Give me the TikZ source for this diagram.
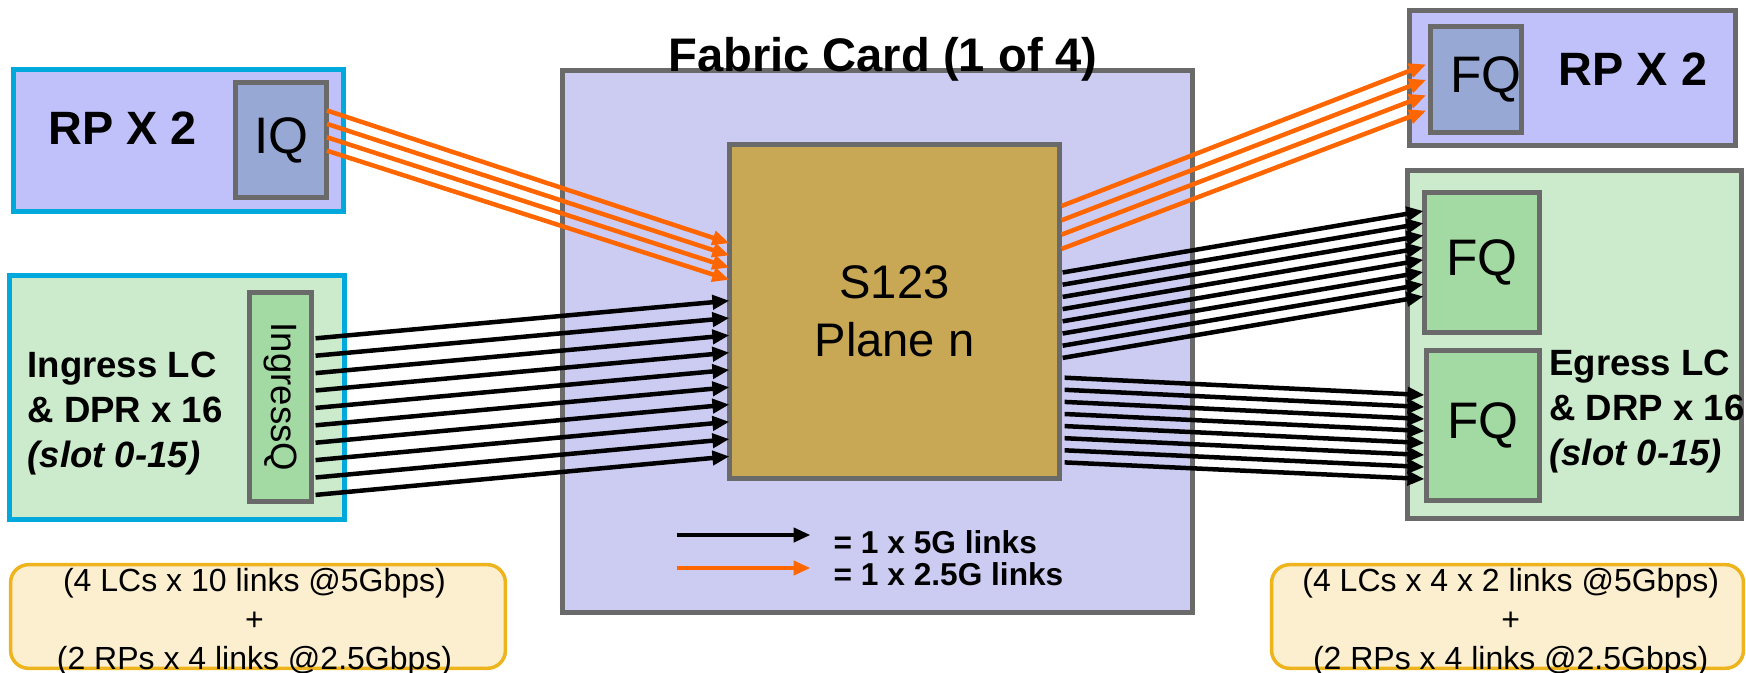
\documentclass[tikz,border=0pt]{standalone}
\usepackage{fontspec}
\setmainfont{Liberation Sans}
\usetikzlibrary{calc,arrows.meta}

\definecolor{rpfill}{RGB}{192,192,250}
\definecolor{fabfill}{RGB}{204,204,242}
\definecolor{qfill}{RGB}{151,168,212}
\definecolor{lcfill}{RGB}{204,234,204}
\definecolor{gqfill}{RGB}{163,217,163}
\definecolor{chipfill}{RGB}{200,168,84}
\definecolor{cardblue}{RGB}{0,169,220}
\definecolor{edgegray}{RGB}{106,106,106}
\definecolor{linkorange}{RGB}{255,102,0}
\definecolor{notefill}{RGB}{252,239,207}
\definecolor{notegold}{RGB}{238,180,30}

\begin{document}
\begin{tikzpicture}[x=0.01cm, y=-0.01cm,
  box/.style={draw=edgegray, line width=0.05cm, inner sep=0pt, outer sep=0pt},
  card/.style={box, draw=cardblue},
  note/.style={draw=notegold, line width=0.035cm, fill=notefill, rounded corners=0.18cm, inner sep=0pt},
  notetext/.style={inner sep=0pt, align=center, font=\fontsize{9.1}{11.1}\selectfont},
  link/.style={line width=0.045cm, -{Triangle[length=0.17cm,width=0.14cm]}},
  fast/.style={link, black},
  slow/.style={link, linkorange},
  big/.style={inner sep=0pt, font=\fontsize{13.3}{16}\selectfont\bfseries},
  q/.style={font=\fontsize{14.6}{17}\selectfont},
  lc/.style={inner sep=0pt, align=left, font=\fontsize{10.4}{12.8}\selectfont\bfseries}
]
\useasboundingbox (0,0) rectangle (1746,673);

% Left side: route processors and ingress line cards
\node[card, fill=rpfill, minimum width=3.29cm, minimum height=1.41cm] (rpL) at (178.5,140.5) {};
\node[box, fill=qfill, minimum width=0.915cm, minimum height=1.14cm, q] (iq) at (281.2,140) {IQ};
\node[big, anchor=base] at (122.5,145) {RP X 2};

\node[card, fill=lcfill, minimum width=3.35cm, minimum height=2.435cm] (ingL) at (177,397.3) {};
\node[box, fill=gqfill, minimum width=0.625cm, minimum height=2.09cm] (ingQ) at (280.3,397) {};
\node[rotate=-90, font=\fontsize{10.4}{12}\selectfont] at (ingQ.center) {IngressQ};
\node[lc, anchor=west] at (26.8,413.7) {Ingress LC\\\& DPR x 16\\\textit{(slot 0-15)}};

% Fabric card with the switch element
\node[box, fill=fabfill, minimum width=6.29cm, minimum height=5.41cm] (fabric) at (877.5,341.5) {};
\node[big, anchor=base, font=\fontsize{13.4}{16}\selectfont\bfseries] (title) at (883,71.5) {Fabric Card (1 of 4)};
\node[box, fill=chipfill, minimum width=3.30cm, minimum height=3.335cm, align=center,
  font=\fontsize{13.4}{16.45}\selectfont] (chip) at (894.5,311.7) {S123\\Plane n};

% Right side: route processors and egress line cards
\node[box, fill=rpfill, minimum width=3.26cm, minimum height=1.345cm] (rpR) at (1572.5,78.2) {};
\node[box, fill=qfill, minimum width=0.895cm, minimum height=1.065cm, q] (fqR) at (1475.8,79.3) {\hspace*{0.2cm}FQ};
\node[big, anchor=base] at (1633,85.4) {RP X 2};

\node[box, fill=lcfill, minimum width=3.335cm, minimum height=3.48cm] (egL) at (1574.8,344.5) {};
\node[box, fill=gqfill, minimum width=1.15cm, minimum height=1.40cm, q] (fq1) at (1482,262.5) {FQ};
\node[box, fill=gqfill, minimum width=1.13cm, minimum height=1.50cm, q] (fq2) at (1483,425.5) {FQ};
\node[lc, anchor=west] at (1548.6,411.6) {Egress LC\\\& DRP x 16\\\textit{(slot 0-15)}};

% Link counts
\node[note, minimum width=4.946cm, minimum height=1.036cm] (sumL) at (258,616.5) {};
\node[notetext] at (254.5,622.3) {(4 LCs x 10 links @5Gbps)\\+\\(2 RPs x 4 links @2.5Gbps)};
\node[note, minimum width=4.716cm, minimum height=1.036cm] (sumR) at (1507.5,616.5) {};
\node[notetext] at (1510.7,622.3) {(4 LCs x 4 x 2 links @5Gbps)\\+\\(2 RPs x 4 links @2.5Gbps)};

% Links into the fabric
\foreach \i in {0,...,3}
  \draw[slow] ($(iq.east)+(0,-29.5+13.4*\i)$) -- ($(chip.west)+(0,-68.5+12.2*\i)$);
\foreach \i in {0,...,9}
  \draw[fast] ($(ingQ.east)+(4,-58.7+17.4*\i)$) -- ($(chip.west)+(0,-11+17.3*\i)$);

% Links out of the fabric
\foreach \i in {0,...,3}
  \draw[slow] ($(chip.east)+(2,-105.7+14.3*\i)$) -- ($(fqR.west)+(-4,-14.9+15.4*\i)$);
\foreach \i in {0,...,7}
  \draw[fast] ($(chip.east)+(3,-39.2+12.2*\i)$) -- ($(fq1.west)+(-1,-51.5+12.2*\i)$);
\foreach \i in {0,...,7}
  \draw[fast] ($(chip.east)+(5,66+12.1*\i)$) -- ($(fq2.west)+(-2,-30.5+12*\i)$);

% Legend
\coordinate (k5a) at (676.7,535);
\coordinate (k5b) at (810.5,535);
\coordinate (k25a) at (676.7,568);
\coordinate (k25b) at (810.5,568);
\draw[fast] (k5a) -- (k5b);
\draw[slow] (k25a) -- (k25b);
\node[inner sep=0pt, anchor=west, align=left, font=\fontsize{9}{9.2}\selectfont\bfseries] (key) at (833,558)
  {= 1 x 5G links\\= 1 x 2.5G links};

\end{tikzpicture}
\end{document}
